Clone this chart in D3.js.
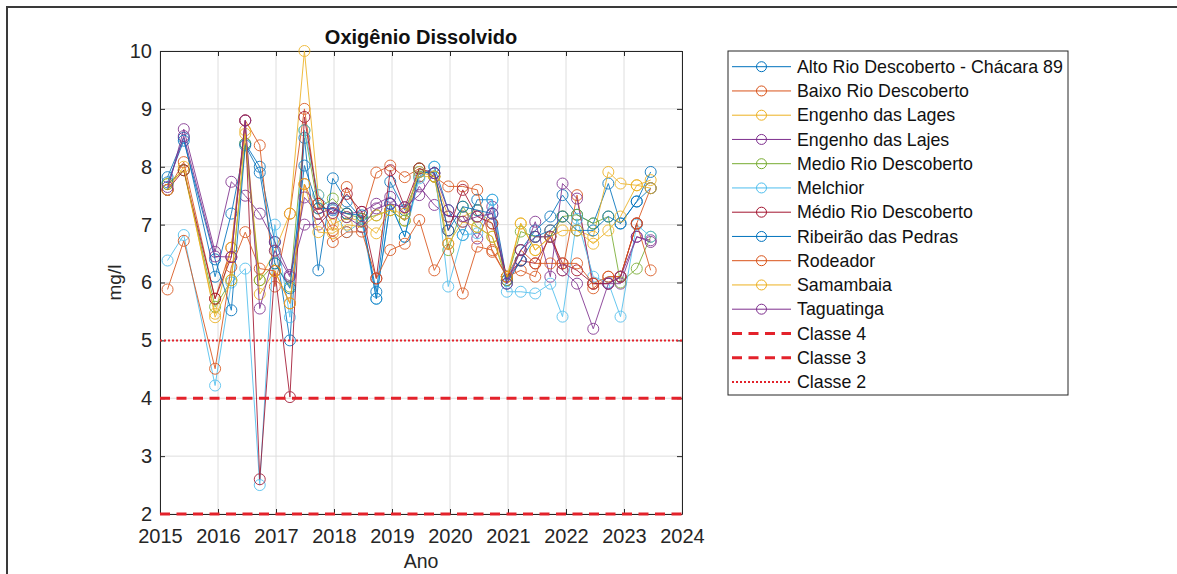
<!DOCTYPE html>
<html>
<head>
<meta charset="utf-8">
<script src="https://cdn.jsdelivr.net/npm/d3@7"></script>
<style>
  html, body { margin: 0; padding: 0; background: #fff; }
  svg { display: block; font-family: Arial, "Liberation Sans", sans-serif; }
</style>
</head>
<body>
<div id="chart"></div>
<script>
// sampling dates (decimal years)
const dates = [2015.13, 2015.41, 2015.95, 2016.23, 2016.47, 2016.72, 2016.98, 2017.24, 2017.49, 2017.73,
  2017.98, 2018.22, 2018.48, 2018.73, 2018.97, 2019.22, 2019.47, 2019.73, 2019.97, 2020.22,
  2020.47, 2020.73, 2020.98, 2021.22, 2021.47, 2021.73, 2021.94, 2022.19, 2022.47, 2022.73,
  2022.94, 2023.22, 2023.46];

const altoRio = [7.82, 8.5, 6.1, 7.19, 8.4, 8.0, 6.7, 5.0, 8.5, 6.21, 7.8, 7.4, 7.1, 5.84, 7.74, 7.25, 7.83, 8.0, 7.25, 6.82, 7.43, 7.43, 6.04, 6.56, 6.9, 7.14, 7.51, 7.17, 7.02, 7.71, 7.02, 7.4, 7.91];
const baixoRio = [7.6, 8.08, 5.72, 6.6, 8.8, 8.37, 5.93, 7.19, 9.0, 7.36, 6.9, 7.65, 7.05, 7.9, 8.02, 7.82, 7.97, 7.83, 7.66, 7.66, 7.6, 6.53, 6.1, 6.21, 6.1, 6.9, 6.21, 7.51, 5.9, 6.1, 6.1, 7.02, 7.63];
const engenhoLages = [7.7, 7.94, 5.46, 6.6, 8.63, 6.04, 6.55, 7.19, 10.0, 7.51, 7.0, 7.13, 7.05, 6.85, 7.25, 7.07, 7.83, 7.83, 7.14, 7.14, 7.25, 7.02, 6.04, 7.02, 6.56, 6.79, 7.14, 6.9, 6.79, 7.91, 7.71, 7.68, 7.77];
const engenhoLajes = [7.6, 8.65, 6.53, 7.74, 7.5, 7.19, 6.7, 6.13, 7.0, 7.0, 7.25, 7.19, 7.22, 7.36, 7.48, 7.19, 7.66, 7.34, 7.14, 7.14, 6.76, 7.31, 6.04, 6.38, 7.05, 6.1, 7.71, 7.45, 5.98, 5.98, 5.98, 6.79, 6.73];
const medioRio = [7.7, 7.94, 5.58, 6.04, 8.4, 6.04, 6.33, 5.93, 8.63, 7.28, 7.45, 7.19, 7.1, 7.16, 7.25, 7.07, 7.97, 7.83, 6.56, 7.31, 6.96, 6.79, 6.04, 6.88, 6.79, 6.79, 7.14, 7.17, 7.02, 7.14, 6.0, 6.24, 6.79];
const melchior = [6.38, 6.82, 4.22, 6.0, 6.24, 2.5, 7.0, 5.4, 8.63, 7.51, 7.25, 6.87, 7.05, 5.72, 7.36, 6.79, 7.8, 8.0, 5.93, 6.82, 6.85, 7.43, 5.84, 5.84, 5.81, 5.98, 5.41, 7.1, 6.1, 6.0, 5.41, 7.0, 6.79];
const medioRioAcento = [7.6, 7.94, 5.72, 6.44, 8.8, 2.6, 6.2, 4.02, 8.86, 7.36, 7.2, 7.53, 7.22, 6.07, 7.94, 7.3, 7.97, 7.89, 6.9, 7.6, 7.14, 7.02, 6.1, 6.38, 6.33, 6.79, 6.33, 6.21, 5.98, 5.98, 6.1, 7.02, null];
const ribeiraoPedras = [7.73, 8.45, 6.4, 5.52, 8.37, 7.9, 6.33, 5.9, 8.02, 7.28, 7.28, 7.19, 7.16, 5.72, 7.36, 6.79, 7.91, 7.89, 6.9, 7.31, 7.25, 7.19, 5.98, 6.38, 6.79, 6.9, 7.14, 6.9, 6.9, 7.14, 7.02, 7.4, 7.63];
const rodeador = [5.88, 6.72, 4.51, 6.27, 6.87, 6.24, 6.2, 5.64, 7.7, 7.19, 6.7, 6.87, 6.88, 6.07, 6.56, 6.67, 7.08, 6.21, 6.67, 5.81, 6.62, 6.56, 6.1, 6.56, 6.33, 6.33, 6.33, 6.33, 5.98, 6.1, 6.1, 7.02, 6.21];
const samambaia = [7.6, 8.0, 5.4, 6.04, 8.57, 5.8, 6.2, 5.64, 7.7, 6.87, 6.85, 7.0, 6.96, 7.16, 7.25, 7.19, 7.91, 7.83, 6.67, 7.05, 6.96, 6.79, 6.1, 7.02, 6.56, 6.79, 6.9, 6.9, 6.67, 6.9, 7.14, 7.68, 7.63];
const taguatinga = [7.65, 8.53, 6.45, 6.44, 8.8, 5.55, 6.55, 6.1, 7.47, 7.19, 7.28, 7.13, 6.96, 7.28, 7.36, 7.3, 7.51, 7.89, 7.25, 7.05, 7.14, 7.19, 5.98, 6.56, 6.79, 6.79, 6.21, 5.98, 5.2, 5.98, 6.1, 6.79, 6.7];

const seriesNames = ["Alto Rio Descoberto - Chácara 89", "Baixo Rio Descoberto", "Engenho das Lages",
  "Engenho das Lajes", "Medio Rio Descoberto", "Melchior", "Médio Rio Descoberto",
  "Ribeirão das Pedras", "Rodeador", "Samambaia", "Taguatinga"];
const seriesValues = [altoRio, baixoRio, engenhoLages, engenhoLajes, medioRio, melchior,
  medioRioAcento, ribeiraoPedras, rodeador, samambaia, taguatinga];

// class limits (mg/l)
const classNames = ["Classe 4", "Classe 3", "Classe 2"];
const classLimits = [2, 4, 5];

const xTicks = [2015, 2016, 2017, 2018, 2019, 2020, 2021, 2022, 2023, 2024];
const yTicks = [2, 3, 4, 5, 6, 7, 8, 9, 10];

// matlab default line colours
const palette = ["#0072BD", "#D95319", "#EDB120", "#7E2F8E", "#77AC30", "#4DBEEE", "#A2142F"];
const RED = "#E3222B";
const classDash = ["10,6.5", "10,6.5", "2,2"];
const classWidth = [3, 3, 2];

const W = 1177, H = 574;
const plot = { left: 160, right: 682, top: 51, bottom: 514 };

const svg = d3.select("#chart").append("svg")
  .attr("width", W)
  .attr("height", H);

// outer figure frame (clipped at right and bottom)
svg.append("path")
  .attr("d", `M7,${H + 5}V7H${W + 5}`)
  .attr("fill", "none")
  .attr("stroke", "#3a3a3a")
  .attr("stroke-width", 2);

const x = d3.scaleLinear().domain([2015, 2024]).range([plot.left, plot.right]);
const y = d3.scaleLinear().domain([2, 10]).range([plot.bottom, plot.top]);

// grid
const grid = svg.append("g").attr("class", "grid");
grid.selectAll("line.gx")
  .data(xTicks)
  .enter().append("line")
  .attr("x1", d => x(d)).attr("x2", d => x(d))
  .attr("y1", plot.top).attr("y2", plot.bottom)
  .attr("stroke", "#dedede").attr("stroke-width", 1);
grid.selectAll("line.gy")
  .data(yTicks)
  .enter().append("line")
  .attr("x1", plot.left).attr("x2", plot.right)
  .attr("y1", d => y(d)).attr("y2", d => y(d))
  .attr("stroke", "#dedede").attr("stroke-width", 1);

// axes, ticks pointing inwards like matlab
const axisColor = "#262626";
const styleAxis = g => {
  g.select(".domain").attr("stroke", axisColor);
  g.selectAll(".tick line").attr("stroke", axisColor);
  g.selectAll(".tick text").attr("fill", axisColor).attr("font-size", 20);
};

svg.append("g")
  .attr("transform", `translate(0,${plot.bottom})`)
  .call(d3.axisBottom(x).tickValues(xTicks).tickFormat(d3.format("d")).tickSizeInner(-5).tickSizeOuter(0).tickPadding(15))
  .call(styleAxis)
  .attr("font-family", null);

svg.append("g")
  .attr("transform", `translate(${plot.left},0)`)
  .call(d3.axisLeft(y).tickValues(yTicks).tickFormat(d3.format("d")).tickSizeInner(-5).tickSizeOuter(0).tickPadding(8))
  .call(styleAxis)
  .attr("font-family", null);

svg.append("g")
  .attr("transform", `translate(0,${plot.top})`)
  .call(d3.axisTop(x).tickValues(xTicks).tickFormat("").tickSizeInner(-5).tickSizeOuter(0))
  .call(styleAxis);

svg.append("g")
  .attr("transform", `translate(${plot.right},0)`)
  .call(d3.axisRight(y).tickValues(yTicks).tickFormat("").tickSizeInner(-5).tickSizeOuter(0))
  .call(styleAxis);

// data series
const line = d3.line()
  .defined(d => d.v != null)
  .x(d => x(d.t))
  .y(d => y(d.v));

const series = seriesValues.map((vals, i) => ({
  name: seriesNames[i],
  color: palette[i % palette.length],
  points: vals.map((v, j) => ({ t: dates[j], v: v }))
}));

const sg = svg.append("g").attr("class", "series");
series.forEach(s => {
  const g = sg.append("g").attr("opacity", 0.85);
  g.append("path")
    .datum(s.points)
    .attr("d", line)
    .attr("fill", "none")
    .attr("stroke", s.color)
    .attr("stroke-width", 1);
  g.selectAll("circle")
    .data(s.points.filter(d => d.v != null))
    .enter().append("circle")
    .attr("cx", d => x(d.t))
    .attr("cy", d => y(d.v))
    .attr("r", 5.5)
    .attr("fill", "none")
    .attr("stroke", s.color)
    .attr("stroke-width", 1);
});

// class limit lines
classLimits.forEach((c, i) => {
  svg.append("line")
    .attr("x1", plot.left).attr("x2", plot.right)
    .attr("y1", y(c)).attr("y2", y(c))
    .attr("stroke", RED)
    .attr("stroke-width", classWidth[i])
    .attr("stroke-dasharray", classDash[i]);
});

// title and labels
svg.append("text")
  .attr("x", (plot.left + plot.right) / 2)
  .attr("y", 44)
  .attr("text-anchor", "middle")
  .attr("font-size", 20)
  .attr("font-weight", "bold")
  .attr("fill", "#111")
  .text("Oxigênio Dissolvido");

svg.append("text")
  .attr("x", (plot.left + plot.right) / 2)
  .attr("y", 568)
  .attr("text-anchor", "middle")
  .attr("font-size", 19.5)
  .attr("fill", axisColor)
  .text("Ano");

svg.append("text")
  .attr("transform", `translate(121,${(plot.top + plot.bottom) / 2}) rotate(-90)`)
  .attr("text-anchor", "middle")
  .attr("font-size", 19)
  .attr("fill", axisColor)
  .text("mg/l");

// legend
const leg = { x: 728, y: 51, w: 340, h: 344, row0: 66.7, rowH: 24.25 };
const lg = svg.append("g").attr("class", "legend");
lg.append("rect")
  .attr("x", leg.x).attr("y", leg.y)
  .attr("width", leg.w).attr("height", leg.h)
  .attr("fill", "#fff")
  .attr("stroke", axisColor)
  .attr("stroke-width", 1);

const legendItems = series.map(s => ({ name: s.name, color: s.color, marker: true, dash: null, width: 1 }))
  .concat(classNames.map((n, i) => ({ name: n, color: RED, marker: false, dash: classDash[i], width: classWidth[i] })));

const rows = lg.selectAll("g.row")
  .data(legendItems)
  .enter().append("g")
  .attr("transform", (d, i) => `translate(0,${leg.row0 + i * leg.rowH})`);

rows.append("line")
  .attr("x1", 732).attr("x2", 791)
  .attr("y1", 0).attr("y2", 0)
  .attr("stroke", d => d.color)
  .attr("stroke-width", d => d.width)
  .attr("stroke-dasharray", d => d.dash);

rows.filter(d => d.marker).append("circle")
  .attr("cx", 761.5).attr("cy", 0).attr("r", 5)
  .attr("fill", "none")
  .attr("stroke", d => d.color)
  .attr("stroke-width", 1);

rows.append("text")
  .attr("x", 797)
  .attr("y", 0)
  .attr("dy", "0.35em")
  .attr("font-size", 17.8)
  .attr("fill", "#111")
  .text(d => d.name);
</script>
</body>
</html>
